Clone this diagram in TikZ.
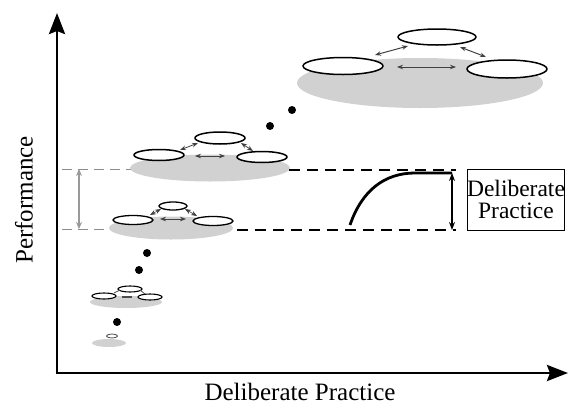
\documentclass[tikz,border=0pt]{standalone}
\usepackage{fontspec}
\setmainfont{Liberation Serif}
\usetikzlibrary{arrows.meta}
\begin{document}
\begin{tikzpicture}[x=1pt,y=-1pt,
  greybase/.style={fill=black!18,draw=none},
  proc/.style={draw=black,fill=white,line width=1.5pt},
  link/.style={draw=black!75,line width=1pt,{Stealth[length=6pt,width=4.5pt]}-{Stealth[length=6pt,width=4.5pt]}},
  dot/.style={fill=black,draw=none},
  axis/.style={line width=2.8pt,-{Stealth[length=21pt,width=16pt,inset=3pt]}},
  greydash/.style={draw=black!45,dash pattern=on 10pt off 6pt,line width=0.9pt},
  blackdash/.style={draw=black,dash pattern=on 11pt off 7pt,line width=2pt},
  lbl/.style={font=\fontsize{25}{28}\selectfont,inner sep=0pt}
]
\useasboundingbox (0,0) rectangle (574,405);
% axes
\coordinate (O) at (57,373);
\coordinate (Ytop) at (57,13);
\coordinate (Xend) at (568,373);
\draw[axis] (O) -- (Ytop);
\draw[axis] ([xshift=-1.4pt]O) -- (Xend);
\node[lbl,rotate=90] (ylab) at (24,200) {Performance};
\node[lbl] (xlab) at (300,392) {Deliberate Practice};

% big top cluster
\fill[greybase] (420,83) ellipse (123 and 25);
\draw[proc] (437,37) ellipse (39 and 8);
\draw[proc] (343,66) ellipse (40 and 8.5);
\draw[proc] (507,69) ellipse (40 and 9);
\coordinate (a1) at (375,55); \coordinate (a2) at (408,46);
\coordinate (b1) at (460,47); \coordinate (b2) at (486,57);
\coordinate (c1) at (397,67); \coordinate (c2) at (456,67);
\draw[link] (a1) -- (a2);
\draw[link] (b1) -- (b2);
\draw[link] (c1) -- (c2);

% dots
\fill[dot] (292,110) circle (4);
\fill[dot] (270,126) circle (4);
\fill[dot] (147,253) circle (4);
\fill[dot] (139,270) circle (4);
\fill[dot] (117,322) circle (4);

% guide lines
\coordinate (gu1) at (62,169); \coordinate (gu2) at (135,169);
\coordinate (gl1) at (62,229); \coordinate (gl2) at (112,229);
\draw[greydash] (gu1) -- (gu2);
\draw[greydash] (gl1) -- (gl2);
\coordinate (ga1) at (79,169); \coordinate (ga2) at (79,229);
\draw[draw=black!40,line width=1.4pt,{Stealth[length=7pt,width=6pt]}-{Stealth[length=7pt,width=6pt]}] (ga1) -- (ga2);

% upper middle cluster
\fill[greybase] (210,168) ellipse (80 and 13.5);
\draw[proc] (220,138) ellipse (25 and 6);
\draw[proc] (159,155) ellipse (25 and 5.5);
\draw[proc] (262,157) ellipse (25 and 5.5);
\draw[link,line width=0.8pt] (180,150) -- (198,143);
\draw[link,line width=0.8pt] (241,143) -- (253,151);
\draw[link,line width=0.8pt] (195,156) -- (225,156);

% lower middle cluster
\fill[greybase] (171,228) ellipse (62 and 11.5);
\draw[proc,line width=1.3pt] (173,206) ellipse (14 and 4);
\draw[proc,line width=1.3pt] (133,220) ellipse (20 and 4.5);
\draw[proc,line width=1.3pt] (213,221) ellipse (20 and 4.5);
\draw[link,line width=0.6pt] (150,215) -- (161,209);
\draw[link,line width=0.6pt] (185,209) -- (197,216);
\draw[link,line width=0.6pt] (160,219) -- (186,219);

% small cluster
\fill[greybase] (126,302) ellipse (36 and 6);
\draw[proc,line width=1.1pt] (130,289) ellipse (12 and 3);
\draw[proc,line width=1.1pt] (104,296) ellipse (12 and 3);
\draw[proc,line width=1.1pt] (150,297) ellipse (12 and 3);
\draw[black!70,line width=0.8pt] (114,293) -- (120,290);
\draw[black!70,line width=0.8pt] (140,290) -- (145,294);
\draw[black!70,line width=1.4pt] (122,297) -- (132,297);

% tiny cluster
\fill[greybase] (109,343) ellipse (17 and 4);
\draw[proc,line width=0.8pt,draw=black!70] (112,336) ellipse (5.5 and 2);

% black dashed lines
\coordinate (du1) at (289,170); \coordinate (du2) at (456,170);
\coordinate (dl1) at (237,230); \coordinate (dl2) at (456,230);
\draw[blackdash] (du1) -- (du2);
\draw[blackdash] (dl1) -- (dl2);

% learning curve
\coordinate (cs) at (350,225);
\coordinate (ce) at (452,173);
\draw[line width=2.8pt] (cs) .. controls (362,190) and (385,173) .. (415,173) -- (ce);
\coordinate (va) at (452,173); \coordinate (vb) at (452,230);
\draw[line width=1.4pt,{Stealth[length=8pt,width=6pt]}-{Stealth[length=8pt,width=6pt]}] (va) -- (vb);

% box
\node[draw=black,line width=1pt,minimum width=96,minimum height=61,inner sep=0pt,align=center,font=\fontsize{23.5}{22}\selectfont] (box) at (516,199.5) {Deliberate\\Practice};
\end{tikzpicture}
\end{document}
